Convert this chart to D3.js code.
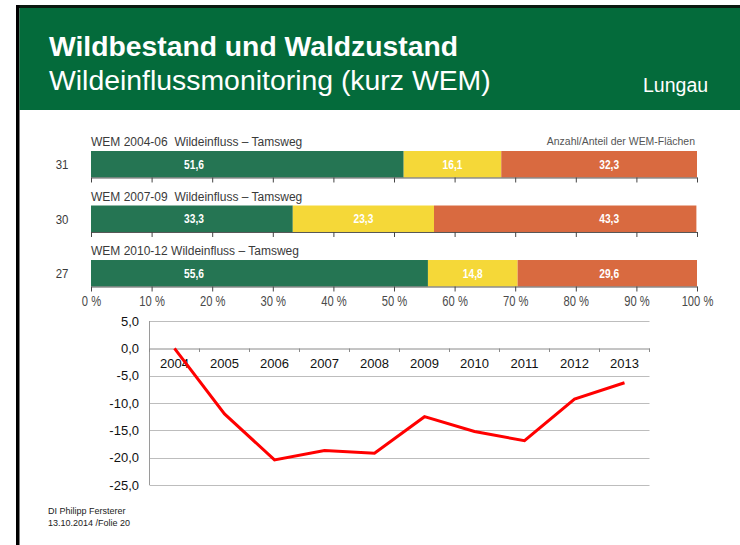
<!DOCTYPE html>
<html>
<head>
<meta charset="utf-8">
<script src="https://cdn.jsdelivr.net/npm/d3@7"></script>
<style>
  html, body { margin: 0; padding: 0; background: #fff; }
  svg { display: block; }
  text { font-family: "Liberation Sans", Arial, Helvetica, sans-serif; white-space: pre; }
</style>
</head>
<body>
<script>
// ---------------- DATA ----------------
const rowTitles = ["WEM 2004-06  Wildeinfluss – Tamsweg", "WEM 2007-09  Wildeinfluss – Tamsweg", "WEM 2010-12 Wildeinfluss – Tamsweg"];
const rowCounts = [31, 30, 27];
const greenShare = [51.6, 33.3, 55.6];
const yellowShare = [16.1, 23.3, 14.8];
const redShare = [32.3, 43.3, 29.6];
const pctTicks = [0, 10, 20, 30, 40, 50, 60, 70, 80, 90, 100];

const years = ["2004", "2005", "2006", "2007", "2008", "2009", "2010", "2011", "2012", "2013"];
const lineValues = [0.0, -12.0, -20.4, -18.7, -19.2, -12.5, -15.2, -16.9, -9.3, -6.3];
const yTicks = [5, 0, -5, -10, -15, -20, -25];

// ---------------- SETUP ----------------
const W = 740, H = 545;
const svg = d3.select("body").append("svg").attr("width", W).attr("height", H);

// condensed text helper (no narrow font installed): horizontal squeeze around anchor point
function ctext(parent, x, y, str, size, sx, opts = {}) {
  return parent.append("text")
    .attr("transform", `translate(${x},${y}) scale(${sx},1)`)
    .attr("text-anchor", opts.anchor || "start")
    .attr("font-size", size)
    .attr("font-weight", opts.weight || "normal")
    .attr("fill", opts.fill || "#333")
    .text(str);
}

// slide frame
svg.append("rect").attr("x", 16).attr("y", 5).attr("width", W - 16).attr("height", 3).attr("fill", "#0b1a10");
svg.append("rect").attr("x", 16).attr("y", 5).attr("width", 3.5).attr("height", H - 5).attr("fill", "#000");
svg.append("rect").attr("x", 19.5).attr("y", 8).attr("width", W - 19.5).attr("height", 102).attr("fill", "#046b3b");

svg.append("text").attr("x", 49).attr("y", 56)
  .attr("font-size", 28.3).attr("font-weight", "bold").attr("fill", "#fff")
  .text("Wildbestand und Waldzustand");
svg.append("text").attr("x", 49).attr("y", 90)
  .attr("font-size", 28.4).attr("fill", "#fff")
  .text("Wildeinflussmonitoring (kurz WEM)");
svg.append("text").attr("x", 643).attr("y", 92)
  .attr("font-size", 19.5).attr("fill", "#fff")
  .text("Lungau");

// ---------------- BAR CHART ----------------
const colors = { green: "#257553", yellow: "#f5d838", red: "#d96a40" };
const x = d3.scaleLinear().domain([0, 100]).range([91, 697]);
const yRow = d3.scaleBand().domain(d3.range(rowCounts.length)).range([151, 286.5]).paddingInner(0.514).paddingOuter(0);
const fmt1 = v => d3.format(".1f")(v).replace(".", ",");

const bars = svg.append("g");
rowCounts.forEach((count, i) => {
  const segs = [
    { key: "green", v0: 0, v1: greenShare[i], v: greenShare[i] },
    { key: "yellow", v0: greenShare[i], v1: greenShare[i] + yellowShare[i], v: yellowShare[i] },
    { key: "red", v0: greenShare[i] + yellowShare[i], v1: greenShare[i] + yellowShare[i] + redShare[i], v: redShare[i] }
  ];
  const y0 = yRow(i), bh = yRow.bandwidth();
  const g = bars.append("g");
  g.selectAll("rect").data(segs).join("rect")
    .attr("x", d => x(d.v0)).attr("y", y0)
    .attr("width", d => x(d.v1) - x(d.v0)).attr("height", bh)
    .attr("fill", d => colors[d.key]);

  // value labels: green & red anchored at fixed positions as in the source, yellow centred
  const labelPos = d => d.key === "green" ? x(17) : d.key === "red" ? x(85.5) : x((d.v0 + d.v1) / 2);
  segs.forEach(d => ctext(g, labelPos(d), y0 + bh / 2 + 4.5, fmt1(d.v), 12, 0.85, { anchor: "middle", weight: "bold", fill: "#fff" }));

  // row title
  ctext(g, 91, y0 - 5, rowTitles[i], 13.5, 0.89, { fill: "#3a3a3a" });
  // count
  ctext(g, 62, y0 + bh / 2 + 5, count, 13, 0.88, { anchor: "middle", fill: "#3a3a3a" });

  // axis under each bar
  const last = i === rowCounts.length - 1;
  const ax = d3.axisBottom(x).tickValues(pctTicks).tickSize(5).tickSizeOuter(0)
    .tickFormat(last ? (d => d + " %") : () => "");
  const axg = g.append("g").attr("transform", `translate(0,${y0 + bh})`).call(ax);
  axg.select(".domain").attr("stroke", "#555").attr("stroke-width", 1);
  axg.selectAll(".tick line").attr("stroke", "#444");
  axg.selectAll(".tick text")
    .attr("font-size", 14).attr("fill", "#4a4a4a").attr("font-family", "Liberation Sans, Arial, sans-serif")
    .attr("y", 0).attr("dy", 0)
    .attr("transform", "translate(0,19) scale(0.8,1)");
});

ctext(svg, 695, 145, "Anzahl/Anteil der WEM-Flächen", 11.5, 0.91, { anchor: "end", fill: "#555" });

// ---------------- LINE CHART ----------------
const xl = d3.scaleBand().domain(years).range([149.5, 649.5]).padding(0);
const yl = d3.scaleLinear().domain([-25, 5]).range([485, 321]);

const lc = svg.append("g");
// gridlines
lc.selectAll("line.grid").data(yTicks.filter(v => v !== 0)).join("line")
  .attr("x1", 149.5).attr("x2", 649.5)
  .attr("y1", d => Math.round(yl(d)) + 0.5).attr("y2", d => Math.round(yl(d)) + 0.5)
  .attr("stroke", "#bdbdbd").attr("stroke-width", 1);
// y axis line
lc.append("line").attr("x1", 149.5).attr("x2", 149.5).attr("y1", yl(5)).attr("y2", yl(-25))
  .attr("stroke", "#9a9a9a");
// y labels
lc.selectAll("text.ylab").data(yTicks).join("text")
  .attr("x", 139).attr("y", d => yl(d) + 4.5).attr("text-anchor", "end")
  .attr("font-size", 13).attr("fill", "#111")
  .text(d => fmt1(d).replace("−", "-"));

// x axis at 0
const xAxis = d3.axisBottom(xl).tickSize(0).tickSizeOuter(0).tickPadding(10);
const xg = lc.append("g").attr("transform", `translate(0,${Math.round(yl(0)) + 0.5})`).call(xAxis);
xg.select(".domain").attr("stroke", "#8a8a8a");
xg.selectAll(".tick text").attr("font-size", 13).attr("fill", "#111").attr("font-family", "Liberation Sans, Arial, sans-serif");
// category boundary ticks
lc.selectAll("line.bt").data(d3.range(years.length + 1)).join("line")
  .attr("x1", i => 149.5 + i * xl.step()).attr("x2", i => 149.5 + i * xl.step())
  .attr("y1", Math.round(yl(0)) + 0.5).attr("y2", Math.round(yl(0)) + 4)
  .attr("stroke", "#8a8a8a");

// line
const line = d3.line().x((d, i) => xl(years[i]) + xl.bandwidth() / 2).y(d => yl(d));
lc.append("path").datum(lineValues).attr("d", line)
  .attr("fill", "none").attr("stroke", "#ff0000").attr("stroke-width", 3).attr("stroke-linejoin", "miter");

// footer
svg.append("text").attr("x", 48).attr("y", 514).attr("font-size", 9).attr("fill", "#222").text("DI Philipp Fersterer");
svg.append("text").attr("x", 48).attr("y", 526).attr("font-size", 9).attr("fill", "#222").text("13.10.2014 /Folie 20");
</script>
</body>
</html>
